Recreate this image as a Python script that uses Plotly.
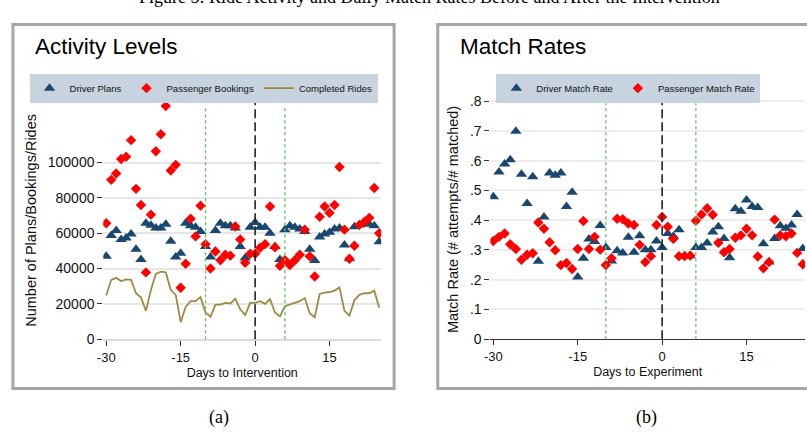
import plotly.graph_objects as go

W, H = 807, 436

days = list(range(-30, 26))

driver_plans = [46900, 58700, 61500, 56400, 57300, 59600, 50900, 45100, 65600, 64500,
                62900, 62900, 65100, 55500, 46500, 48700, 65600, 64200, 63300, 60900,
                52400, 46500, 61500, 65600, 64200, 64200, 62900, 52400, 46000, 63300,
                66000, 63300, 63300, 60000, 52400, 45100, 62000, 64200, 63300, 62400,
                60900, 50900, 44500, 57800, 59600, 60500, 62400, 62900, 53300, 45500,
                63600, 64700, 66000, 65100, 64200, 55100]

passenger_bookings = [65600, 90200, 93800, 102000, 103300, 112700, 85100, 76000, 37800, 70500,
                      106400, 116000, 132000, 95500, 98700, 29100, 42700, 68200, 58200, 75600,
                      53800, 40000, 49600, 44700, 47800, 47300, 63800, 56500, 43300, 48400,
                      48400, 51800, 53800, 75100, 52000, 41500, 44700, 42000, 44700, 47800,
                      62000, 46900, 35500, 69300, 75100, 71500, 76000, 97500, 62000, 45500,
                      52900, 64700, 66400, 68700, 85600, 60000]

completed_rides = [24700, 33600, 34700, 32900, 33800, 33600, 26000, 23600, 16000, 27800,
                   36900, 38200, 37800, 27800, 25100, 9600, 18200, 21500, 21500, 23800,
                   15100, 12700, 19600, 19600, 20500, 20200, 22900, 16900, 13600, 20500,
                   20500, 21500, 20000, 22700, 15100, 12900, 18700, 19600, 20500, 21500,
                   23300, 14700, 12400, 25600, 26400, 26700, 27500, 29300, 16000, 13300,
                   22000, 25100, 26000, 26000, 27500, 17800]

driver_match_rate = [0.479, 0.562, 0.589, 0.603, 0.699, 0.554, 0.456, 0.546, 0.262, 0.411,
                     0.559, 0.551, 0.559, 0.446, 0.494, 0.209, 0.272, 0.337, 0.328, 0.382,
                     0.308, 0.263, 0.297, 0.290, 0.343, 0.292, 0.348, 0.301, 0.301, 0.330,
                     0.308, 0.355, 0.346, 0.368, 0.280, 0.280, 0.308, 0.308, 0.323, 0.360,
                     0.378, 0.338, 0.274, 0.438, 0.430, 0.468, 0.446, 0.443, 0.321, 0.259,
                     0.338, 0.381, 0.373, 0.384, 0.419, 0.305]

passenger_match_rate = [0.330, 0.344, 0.355, 0.319, 0.303, 0.267, 0.284, 0.289, 0.392, 0.371,
                        0.326, 0.299, 0.249, 0.256, 0.236, 0.303, 0.397, 0.303, 0.344, 0.301,
                        0.249, 0.272, 0.405, 0.403, 0.389, 0.384, 0.317, 0.259, 0.279, 0.384,
                        0.411, 0.378, 0.337, 0.279, 0.279, 0.281, 0.398, 0.419, 0.440, 0.418,
                        0.324, 0.292, 0.303, 0.341, 0.349, 0.371, 0.349, 0.278, 0.238, 0.259,
                        0.402, 0.349, 0.346, 0.355, 0.290, 0.252]

intervention_day = 0
window_days = [-10, 6]

x_ticks = [-30, -15, 0, 15]
x_tick_labels = ["-30", "-15", "0", "15"]
left_y_ticks = [0, 20000, 40000, 60000, 80000, 100000]
left_y_labels = ["0", "20000", "40000", "60000", "80000", "100000"]
right_y_ticks = [0, 0.1, 0.2, 0.3, 0.4, 0.5, 0.6, 0.7, 0.8]
right_y_labels = ["0", ".1", ".2", ".3", ".4", ".5", ".6", ".7", ".8"]

NAVY = "#1a476f"
RED = "#ff0000"
KHAKI = "#9c8a45"
GREEN = "#5cbf5c"
FONT = "Liberation Sans, Arial, sans-serif"
SERIF = "Liberation Serif, Times New Roman, serif"
TXT = "#111111"


def px_x(p):
    return p / W


def px_y(p):
    return 1 - p / H


fig = go.Figure()

# Left panel
fig.add_trace(go.Scatter(x=days, y=driver_plans, mode="markers", name="Driver Plans",
                         marker=dict(symbol="triangle-up", size=10, color=NAVY),
                         xaxis="x", yaxis="y", legend="legend"))
fig.add_trace(go.Scatter(x=days, y=passenger_bookings, mode="markers", name="Passenger Bookings",
                         marker=dict(symbol="diamond", size=8, color=RED),
                         xaxis="x", yaxis="y", legend="legend"))
fig.add_trace(go.Scatter(x=days, y=completed_rides, mode="lines", name="Completed Rides",
                         line=dict(color=KHAKI, width=1.8),
                         xaxis="x", yaxis="y", legend="legend"))

# Right panel
fig.add_trace(go.Scatter(x=days, y=driver_match_rate, mode="markers", name="Driver Match Rate",
                         marker=dict(symbol="triangle-up", size=10, color=NAVY),
                         xaxis="x2", yaxis="y2", legend="legend2"))
fig.add_trace(go.Scatter(x=days, y=passenger_match_rate, mode="markers", name="Passenger Match Rate",
                         marker=dict(symbol="diamond", size=8, color=RED),
                         xaxis="x2", yaxis="y2", legend="legend2"))

shapes = []
# panel frames
shapes.append(dict(type="rect", xref="paper", yref="paper", x0=px_x(7), x1=px_x(391),
                   y0=px_y(395), y1=px_y(18), line=dict(color="#a6a6a6", width=3),
                   fillcolor="white", layer="below"))
shapes.append(dict(type="rect", xref="paper", yref="paper", x0=px_x(435), x1=px_x(840),
                   y0=px_y(395), y1=px_y(18), line=dict(color="#a6a6a6", width=3),
                   fillcolor="white", layer="below"))

for xa, ya in (("x", "y"), ("x2", "y2")):
    for d in window_days:
        shapes.append(dict(type="line", xref=xa, yref=ya + " domain", x0=d, x1=d, y0=0, y1=0.985,
                           line=dict(color=GREEN, width=1.3, dash="dot"), layer="above"))
    shapes.append(dict(type="line", xref=xa, yref=ya + " domain", x0=intervention_day,
                       x1=intervention_day, y0=0, y1=0.995,
                       line=dict(color="#222222", width=1.6, dash="9px,4px"), layer="above"))

annotations = [
    dict(text="Activity Levels", x=px_x(27), y=px_y(26), xref="paper", yref="paper",
         xanchor="left", yanchor="top", showarrow=False,
         font=dict(family=FONT, size=22.5, color="black")),
    dict(text="Match Rates", x=px_x(455), y=px_y(26), xref="paper", yref="paper",
         xanchor="left", yanchor="top", showarrow=False,
         font=dict(family=FONT, size=22.5, color="black")),
    dict(text="(a)", x=px_x(215), y=px_y(425), xref="paper", yref="paper",
         xanchor="center", yanchor="middle", showarrow=False,
         font=dict(family=SERIF, size=18, color="black")),
    dict(text="(b)", x=px_x(645), y=px_y(425), xref="paper", yref="paper",
         xanchor="center", yanchor="middle", showarrow=False,
         font=dict(family=SERIF, size=18, color="black")),
    dict(text="Figure 5: Ride Activity and Daily Match Rates Before and After the Intervention",
         x=px_x(427), y=px_y(1), xref="paper", yref="paper",
         xanchor="center", yanchor="bottom", showarrow=False, borderpad=0,
         font=dict(family=SERIF, size=18, color="black")),
]

tick_common = dict(showgrid=False, zeroline=False, ticks="outside", ticklen=5,
                   tickcolor="#333333")

fig.update_layout(
    width=W, height=H,
    margin=dict(l=0, r=0, t=0, b=0),
    paper_bgcolor="white", plot_bgcolor="white",
    showlegend=True,
    xaxis=dict(domain=[px_x(98), px_x(378)], range=[-30.6, 25.4], tickvals=x_ticks,
               ticktext=x_tick_labels, showline=True, linecolor="#dcdcdc", linewidth=2,
               tickfont=dict(family=FONT, size=13, color=TXT),
               title=dict(text="Days to Intervention", standoff=4,
                          font=dict(family=FONT, size=12.5, color=TXT)),
               anchor="y", **tick_common),
    yaxis=dict(domain=[px_y(344), px_y(98)], range=[0, 134500], tickvals=left_y_ticks,
               ticktext=left_y_labels, showline=False,
               tickfont=dict(family=FONT, size=14, color=TXT),
               title=dict(text="Number of Plans/Bookings/Rides", standoff=7,
                          font=dict(family=FONT, size=14.5, color=TXT)),
               anchor="x", **{**tick_common, "showgrid": True}, gridcolor="#e6e6e6", gridwidth=1.5),
    xaxis2=dict(domain=[px_x(488), px_x(805)], range=[-30.53, 25.4], tickvals=x_ticks,
                ticktext=x_tick_labels, showline=True, linecolor="#333333", linewidth=1.3,
                tickfont=dict(family=FONT, size=13, color=TXT),
                title=dict(text="Days to Experiment", standoff=4,
                           font=dict(family=FONT, size=12.5, color=TXT)),
                anchor="y2", **tick_common),
    yaxis2=dict(domain=[px_y(344), px_y(96)], range=[0, 0.805], tickvals=right_y_ticks,
                ticktext=right_y_labels, showline=False,
                tickfont=dict(family=FONT, size=14, color=TXT),
                title=dict(text="Match Rate (# attempts/# matched)", standoff=7,
                           font=dict(family=FONT, size=14.5, color=TXT)),
                anchor="x2", **{**tick_common, "showgrid": True}, gridcolor="#eeeeee", gridwidth=1.5),
    legend=dict(orientation="h", x=px_x(199), y=px_y(69), xanchor="center", yanchor="top",
                bgcolor="#c7d3df", borderwidth=0, font=dict(family=FONT, size=9.5, color=TXT),
                itemwidth=30),
    legend2=dict(orientation="h", x=px_x(627), y=px_y(69), xanchor="center", yanchor="top",
                 bgcolor="#c7d3df", borderwidth=0, font=dict(family=FONT, size=9.5, color=TXT),
                 itemwidth=30),
    shapes=shapes,
    annotations=annotations,
)

fig.write_html("out.html", config={"displayModeBar": False},
               post_script="document.body.style.margin='0px';")
